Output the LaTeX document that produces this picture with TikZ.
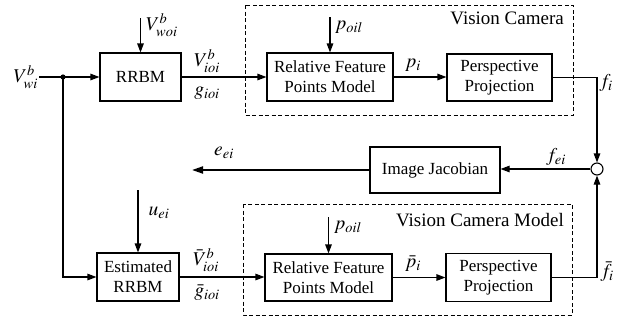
\documentclass[tikz,border=0pt]{standalone}
\usepackage{mathptmx}
\usepackage{fontspec}
\setmainfont{Liberation Serif}
\usetikzlibrary{arrows.meta}
\begin{document}
\begin{tikzpicture}[x=1pt,y=-1pt,
  font=\fontsize{17}{20}\selectfont,
  blk/.style={draw,line width=1.1pt,align=center,inner sep=0pt},
  con/.style={line width=1.1pt,-{Triangle[length=9pt,width=6.5pt]}},
  ln/.style={line width=1.1pt},
  dbox/.style={draw,line width=0.9pt,dash pattern=on 4pt off 2.5pt},
  ttl/.style={anchor=base east,inner sep=0pt,font=\fontsize{19}{20}\selectfont},
  lbl/.style={inner sep=0pt,font=\fontsize{19.5}{20}\selectfont}]
\useasboundingbox (0,0) rectangle (631,325);
% dashed boxes
\draw[dbox] (245,5) rectangle (573,115);
\draw[dbox] (243,204) rectangle (572,315);
\node[ttl] (vc) at (564,24) {Vision Camera};
\node[ttl] (vcm) at (564,226) {Vision Camera Model};
% blocks
\node[blk,minimum width=81pt,minimum height=48pt] (rrbm) at (140.5,77) {RRBM};
\node[blk,minimum width=126pt,minimum height=48pt] (rfp1) at (330,77) {Relative Feature\\Points Model};
\node[blk,minimum width=105pt,minimum height=47pt] (pp1) at (499.5,77.5) {Perspective\\Projection};
\node[blk,minimum width=130pt,minimum height=46pt] (ij) at (435,170) {Image Jacobian};
\node[draw,line width=1.1pt,circle,minimum size=12pt,inner sep=0pt] (sum) at (597,169) {};
\node[blk,minimum width=82pt,minimum height=48pt] (erb) at (138,277) {Estimated\\RRBM};
\node[blk,minimum width=127pt,minimum height=47pt] (rfp2) at (328.5,277.5) {Relative Feature\\Points Model};
\node[blk,minimum width=105pt,minimum height=48pt] (pp2) at (498.5,277.5) {Perspective\\Projection};
% coordinates
\coordinate (in) at (39,77);
\coordinate (dot) at (63,77);
\coordinate (vwo) at (140.5,18);
\coordinate (po1) at (330,17);
\coordinate (po2) at (328.5,217);
\coordinate (uei) at (138,190);
\coordinate (eend) at (192,170);
\fill (dot) circle (2.6pt);
% connectors
\draw[ln] (in) -- (dot);
\draw[con] (dot) -- (rrbm.west);
\draw[con] (dot) |- (erb.west);
\draw[con] (vwo) -- (rrbm.north);
\draw[con] (rrbm.east) -- (rrbm.east -| rfp1.west);
\draw[con] (po1) -- (rfp1.north);
\draw[con] (rfp1.east) -- (rfp1.east -| pp1.west);
\draw[con] (pp1.east) -| (sum.north);
\draw[con] (sum.west) -- (sum.west -| ij.east);
\draw[line width=2pt,-{Triangle[length=11pt,width=7pt]}] (ij.west) -- (eend);
\draw[con] (uei) -- (erb.north);
\draw[con] (po2) -- (rfp2.north);
\draw[con] (erb.east) -- (erb.east -| rfp2.west);
\draw[con] (rfp2.east) -- (rfp2.east -| pp2.west);
\draw[con] (pp2.east) -| (sum.south);
% labels
\node[lbl,anchor=east] (l1) at (38,77) {$V^b_{wi}$};
\node[lbl,anchor=west] (l2) at (146,25) {$V^b_{woi}$};
\node[lbl] (l3) at (207,61) {$V^b_{ioi}$};
\node[lbl] (l4) at (207,93) {$g_{ioi}$};
\node[lbl,anchor=west] (l5) at (335,27) {$p_{oil}$};
\node[lbl] (l6) at (413,65) {$p_i$};
\node[lbl] (l7) at (606,83) {$f_i$};
\node[lbl] (l8) at (556,157) {$f_{ei}$};
\node[lbl] (l9) at (224,153) {$e_{ei}$};
\node[lbl] (l10) at (159,213) {$u_{ei}$};
\node[lbl] (l11) at (206,260) {$\bar{V}^b_{ioi}$};
\node[lbl] (l12) at (207,293) {$\bar{g}_{ioi}$};
\node[lbl,anchor=west] (l13) at (334,227) {$p_{oil}$};
\node[lbl] (l14) at (413,264) {$\bar{p}_i$};
\node[lbl] (l15) at (607,272) {$\bar{f}_i$};
\end{tikzpicture}
\end{document}
